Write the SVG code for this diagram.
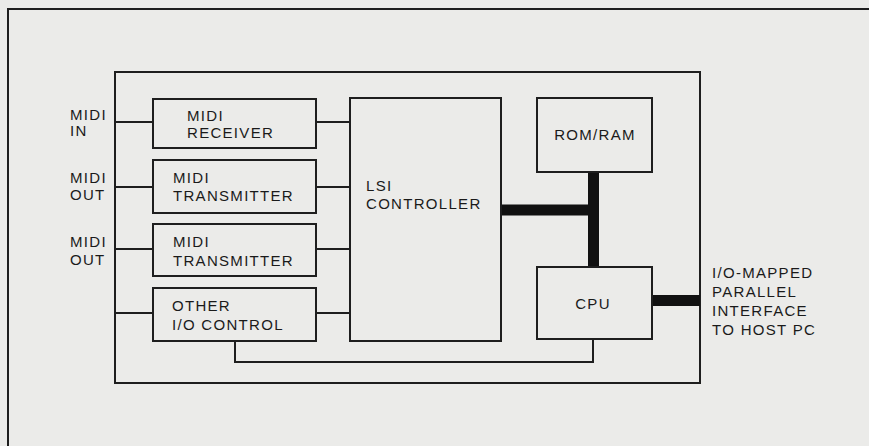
<svg xmlns="http://www.w3.org/2000/svg" width="869" height="446" viewBox="0 0 869 446">
<style>
.bg{fill:#ebebe9}
.box{fill:none;stroke:#1e1e1e;stroke-width:2}
.ln{fill:none;stroke:#1e1e1e;stroke-width:2}
.bus{fill:none;stroke:#111;stroke-width:11}
text{font-family:"Liberation Sans",Arial,sans-serif;font-size:15px;fill:#1a1a1a;letter-spacing:1.3px}
</style>
<rect class="bg" x="0" y="0" width="869" height="446"/>
<path class="ln" d="M8 446 V9 H869"/>
<g id="board"><rect class="box" x="115" y="72" width="585" height="311"/></g>
<g id="connectors">
<path class="ln" d="M115 122 H153 M316 122 H350"/>
<path class="ln" d="M115 187 H153 M316 187 H350"/>
<path class="ln" d="M115 249 H153 M316 249 H350"/>
<path class="ln" d="M115 313 H153 M316 313 H350"/>
<path class="ln" d="M235 341 V362 H593 V339"/>
<path class="bus" d="M501 210 H599"/>
<path class="bus" d="M593.5 172 V267"/>
<path class="bus" d="M652 300.5 H700"/>
</g>
<g id="label-midi-in"><text x="70" y="120">MIDI</text><text x="70" y="136">IN</text></g>
<g id="label-midi-out1"><text x="70" y="183">MIDI</text><text x="70" y="200">OUT</text></g>
<g id="label-midi-out2"><text x="70" y="247">MIDI</text><text x="70" y="265">OUT</text></g>
<g id="midi-receiver"><rect class="box" x="153" y="99" width="163" height="49"/><text x="187" y="121">MIDI</text><text x="187" y="138">RECEIVER</text></g>
<g id="midi-transmitter1"><rect class="box" x="153" y="160" width="163" height="53"/><text x="173" y="183">MIDI</text><text x="173" y="201">TRANSMITTER</text></g>
<g id="midi-transmitter2"><rect class="box" x="153" y="224" width="163" height="52"/><text x="173" y="247">MIDI</text><text x="173" y="266">TRANSMITTER</text></g>
<g id="other-io"><rect class="box" x="153" y="288" width="163" height="53"/><text x="172" y="311">OTHER</text><text x="172" y="330">I/O CONTROL</text></g>
<g id="lsi-controller"><rect class="box" x="350" y="98" width="151" height="243"/><text x="366" y="191">LSI</text><text x="366" y="209">CONTROLLER</text></g>
<g id="rom-ram"><rect class="box" x="537" y="98" width="115" height="74"/><text x="595" y="140" text-anchor="middle">ROM/RAM</text></g>
<g id="cpu"><rect class="box" x="537" y="267" width="115" height="72"/><text x="593" y="309" text-anchor="middle">CPU</text></g>
<g id="label-host"><text x="712" y="278">I/O-MAPPED</text><text x="712" y="297">PARALLEL</text><text x="712" y="316">INTERFACE</text><text x="712" y="335">TO HOST PC</text></g>
</svg>
